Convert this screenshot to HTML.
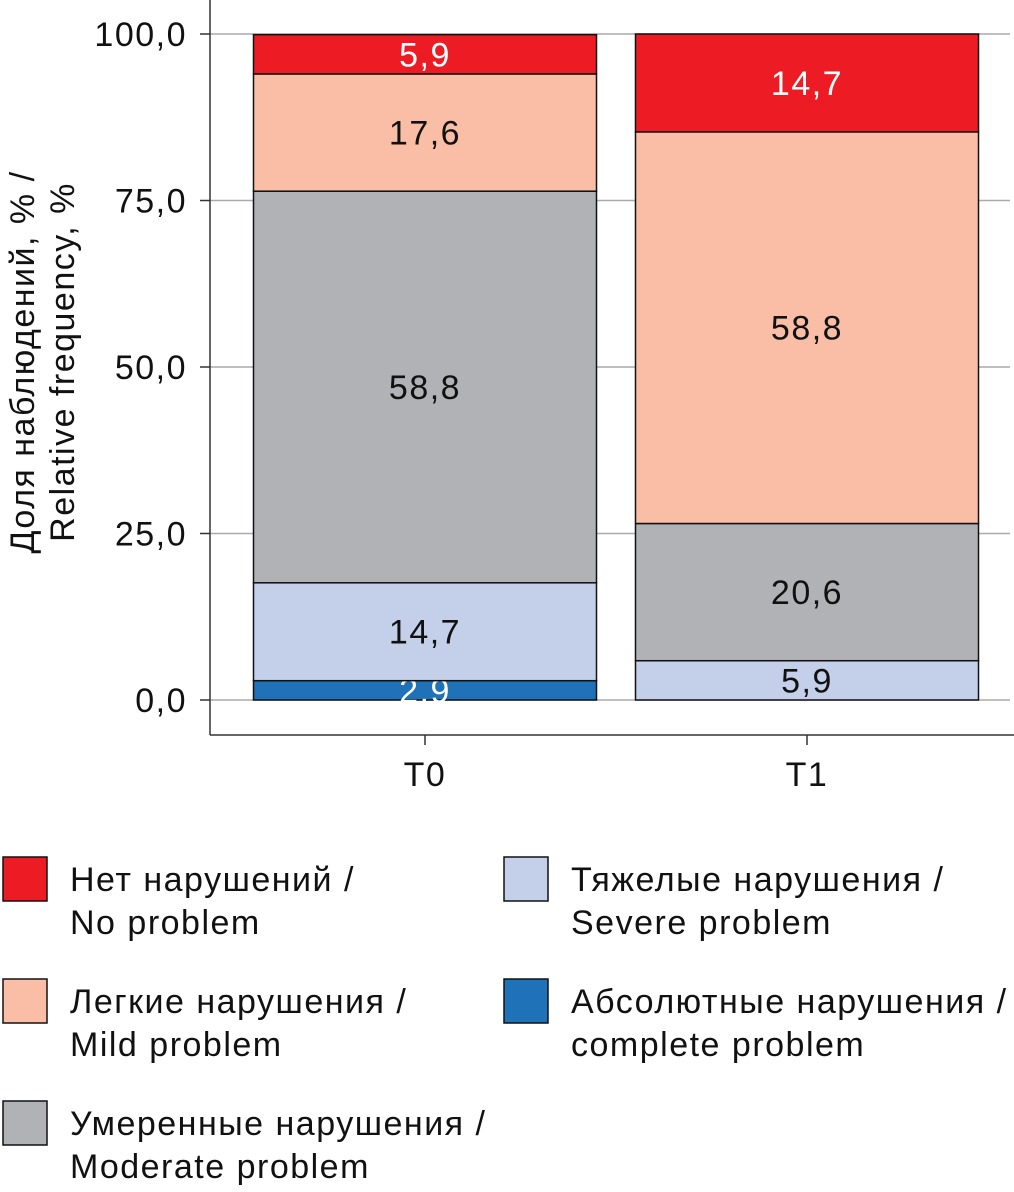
<!DOCTYPE html>
<html><head><meta charset="utf-8">
<style>
body{margin:0;background:#fff;font-family:"Liberation Sans","Noto Sans CJK SC",sans-serif;}
svg{display:block}
</style></head>
<body>
<svg id="chart" width="1014" height="1192" font-family="Liberation Sans, DejaVu Sans, sans-serif" letter-spacing="1.5">
</svg>
<script>
const categories = ["T0","T1"];
const seriesNames = ["Абсолютные нарушения / complete problem","Тяжелые нарушения / Severe problem","Умеренные нарушения / Moderate problem","Легкие нарушения / Mild problem","Нет нарушений / No problem"];
const complete = [2.9, 0];
const severe = [14.7, 5.9];
const moderate = [58.8, 20.6];
const mild = [17.6, 58.8];
const noProblem = [5.9, 14.7];
const yTicks = [0, 25, 50, 75, 100];
const yTickLabels = ["0,0","25,0","50,0","75,0","100,0"];

const series = [complete, severe, moderate, mild, noProblem];
const colors = ["#1f72b8","#c4cfea","#b1b2b6","#fabea7","#ed1c24"];
const textColors = ["#fff","#111","#111","#111","#fff"];
const keys = ["complete","severe","moderate","mild","no-problem"];
const NS = "http://www.w3.org/2000/svg";
const svg = document.getElementById("chart");
const FS = 34;
function y(v){ return 700 - v * 6.66; }
function xc(i){ return 425 + i * 382; }
const barW = 343;
function mk(tag, attrs, parent){ const e = document.createElementNS(NS, tag); for (const k in attrs) e.setAttribute(k, attrs[k]); (parent||svg).appendChild(e); return e; }

yTicks.forEach((t,i)=>{
  const g = mk("line",{x1:210,x2:1010,y1:y(t),y2:y(t),stroke:"#aaa","stroke-width":1.5});
  
  
  const tk = mk("line",{x1:200,x2:210,y1:y(t),y2:y(t),stroke:"#333","stroke-width":1.5});
  
  
  const tx = mk("text",{x:187,y:y(t)+12,"text-anchor":"end","font-size":FS,fill:"#111"});
  tx.textContent = yTickLabels[i];
  
  
});
const ya = mk("line",{x1:210,x2:210,y1:0,y2:735,stroke:"#333","stroke-width":1.5});


const xa = mk("line",{x1:210,x2:1014,y1:735,y2:735,stroke:"#333","stroke-width":1.5});



categories.forEach((c,i)=>{
  let base = 0;
  series.forEach((s,k)=>{
    const v = s[i];
    if (v <= 0) return;
    const r = mk("rect",{x:xc(i)-barW/2,y:y(base+v),width:barW,height:y(base)-y(base+v),fill:colors[k],stroke:"#111","stroke-width":1.5});
    
    
    const t = mk("text",{x:xc(i),y:(y(base)+y(base+v))/2+12,"text-anchor":"middle","font-size":FS,fill:textColors[k]});
    t.textContent = v.toFixed(1).replace(".",",");
    
    
    base += v;
  });
  const tk = mk("line",{x1:xc(i),x2:xc(i),y1:735,y2:745,stroke:"#333","stroke-width":1.5});
  
  
  const lb = mk("text",{x:xc(i),y:786,"text-anchor":"middle","font-size":FS,fill:"#111"});
  lb.textContent = c;
  
  
});

const yt = mk("text",{transform:"translate(34,362) rotate(-90)","text-anchor":"middle","font-size":FS,fill:"#111"});


const t1 = mk("tspan",{x:0,y:0},yt); t1.textContent = "Доля наблюдений, % /";
const t2 = mk("tspan",{x:0,y:40},yt); t2.textContent = "Relative frequency, %";

const legendOrder = [4,3,2,1,0];
const legendPos = [[3,857],[3,979],[3,1101],[504,857],[504,979]];
legendOrder.forEach((k,j)=>{
  const [lx,ly] = legendPos[j];
  const sw = mk("rect",{x:lx,y:ly,width:44,height:44,fill:colors[k],stroke:"#111","stroke-width":1.5});
  
  
  const parts = seriesNames[k].split(" / ");
  const tx = mk("text",{"font-size":FS,fill:"#111"});
  
  
  const a = mk("tspan",{x:lx+67,y:ly+34},tx); a.textContent = parts[0]+" /";
  const b = mk("tspan",{x:lx+67,y:ly+77},tx); b.textContent = parts[1];
});
</script>
</body></html>
